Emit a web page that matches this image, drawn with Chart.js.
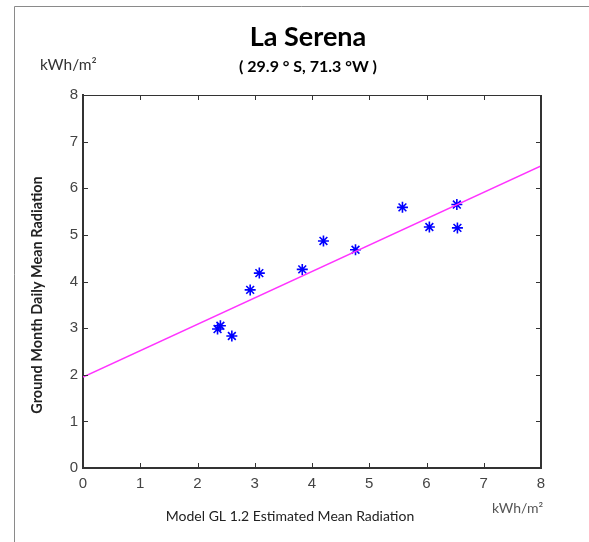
<!DOCTYPE html>
<html>
<head>
<meta charset="utf-8">
<script src="https://cdn.jsdelivr.net/npm/chart.js@4"></script>
<style>
  html, body { margin: 0; padding: 0; background: #fff; }
  #wrap { width: 589px; height: 542px; }
</style>
</head>
<body>
<div id="wrap"><canvas id="chart" width="589" height="542"></canvas></div>
<script>
// ── Data ──
const MODEL_X  = [2.35, 2.40, 2.60, 2.92, 3.08, 3.83, 4.20, 4.76, 5.58, 6.05, 6.53, 6.54];
const GROUND_Y = [2.98, 3.05, 2.83, 3.82, 4.18, 4.26, 4.87, 4.68, 5.59, 5.17, 5.65, 5.15];
const FIT_X = [0, 8];
const FIT_Y = [1.95, 6.48];
const TICKS = [0, 1, 2, 3, 4, 5, 6, 7, 8];

const AXIS_COLOR = '#333';
const TEXT_COLOR = '#222';

// ── Frame, inward ticks and labels ──
const decorPlugin = {
  id: 'decor',
  afterDraw(chart) {
    const { ctx, chartArea: a, scales } = chart;
    ctx.save();

    // outer frame (left + top only, as in the picture)
    ctx.strokeStyle = '#8a8a8a';
    ctx.lineWidth = 1;
    ctx.beginPath();
    ctx.moveTo(14.5, 542); ctx.lineTo(14.5, 6.5); ctx.lineTo(589, 6.5);
    ctx.stroke();

    // box around the axes
    ctx.strokeStyle = AXIS_COLOR;
    ctx.lineWidth = 1;
    ctx.beginPath();
    ctx.moveTo(a.left, a.top + 0.5); ctx.lineTo(a.right, a.top + 0.5);
    ctx.stroke();
    ctx.lineWidth = 2;
    ctx.beginPath();
    ctx.moveTo(a.right, a.top); ctx.lineTo(a.right, a.bottom);
    ctx.stroke();

    // inward ticks on all four sides
    ctx.lineWidth = 1;
    ctx.beginPath();
    TICKS.forEach(v => {
      const x = Math.round(scales.x.getPixelForValue(v)) + 0.5;
      const y = Math.round(scales.y.getPixelForValue(v)) + 0.5;
      ctx.moveTo(x, a.bottom); ctx.lineTo(x, a.bottom - 5);
      ctx.moveTo(x, a.top);    ctx.lineTo(x, a.top + 5);
      ctx.moveTo(a.left, y);   ctx.lineTo(a.left + 5, y);
      ctx.moveTo(a.right, y);  ctx.lineTo(a.right - 5, y);
    });
    ctx.stroke();

    // title + subtitle
    ctx.fillStyle = '#000';
    ctx.textAlign = 'center';
    ctx.textBaseline = 'alphabetic';
    ctx.font = 'bold 27px Lato';
    ctx.fillText('La Serena', 308, 46);
    ctx.font = 'bold 16px Lato';
    ctx.fillText('( 29.9 ° S, 71.3 °W )', 308, 72);

    // unit labels
    ctx.fillStyle = '#333';
    ctx.font = '15.5px Lato';
    ctx.textAlign = 'left';
    ctx.fillText('kWh/m²', 40, 70);
    ctx.font = '14px Lato';
    ctx.fillStyle = '#555';
    ctx.fillText('kWh/m²', 492, 513);

    // axis titles
    ctx.fillStyle = TEXT_COLOR;
    ctx.textAlign = 'center';
    ctx.font = '14px Lato';
    ctx.fillText('Model GL 1.2 Estimated Mean Radiation', 290, 521);

    ctx.translate(42, 295);
    ctx.rotate(-Math.PI / 2);
    ctx.font = 'bold 14.5px Lato';
    ctx.fillText('Ground Month Daily Mean Radiation', 0, 0);

    ctx.restore();
  }
};

const scatterPoints = MODEL_X.map((x, i) => ({ x, y: GROUND_Y[i] }));
const fitPoints = FIT_X.map((x, i) => ({ x, y: FIT_Y[i] }));

new Chart(document.getElementById('chart').getContext('2d'), {
  type: 'scatter',
  data: {
    datasets: [
      {
        label: 'Fit',
        type: 'line',
        data: fitPoints,
        borderColor: '#ff33ff', borderWidth: 1.5,
        pointRadius: 0, fill: false, tension: 0,
      },
      {
        label: 'Ground vs model',
        data: scatterPoints,
        pointStyle: 'star', pointRadius: 5.5,
        borderColor: '#0000ff', backgroundColor: '#0000ff', borderWidth: 1.6,
      }
    ]
  },
  options: {
    responsive: false,
    animation: false,
    layout: { padding: { top: 95, right: 48, left: 0, bottom: 0 } },
    plugins: { legend: { display: false }, tooltip: { enabled: false } },
    scales: {
      x: {
        type: 'linear', min: 0, max: 8,
        afterFit: s => { s.height = 74; },
        afterBuildTicks: s => { s.ticks = TICKS.map(v => ({ value: v })); },
        grid: { display: false, drawTicks: false },
        border: { display: true, color: AXIS_COLOR, width: 2 },
        ticks: { padding: 7, maxRotation: 0, color: '#444', font: { family: 'Liberation Sans', size: 15 } },
      },
      y: {
        type: 'linear', min: 0, max: 8,
        afterFit: s => { s.width = 83; },
        afterBuildTicks: s => { s.ticks = TICKS.map(v => ({ value: v })); },
        grid: { display: false, drawTicks: false },
        border: { display: true, color: AXIS_COLOR, width: 2 },
        ticks: { padding: 5, color: '#444', font: { family: 'Liberation Sans', size: 15 } },
      }
    }
  },
  plugins: [decorPlugin]
});
</script>
</body>
</html>
